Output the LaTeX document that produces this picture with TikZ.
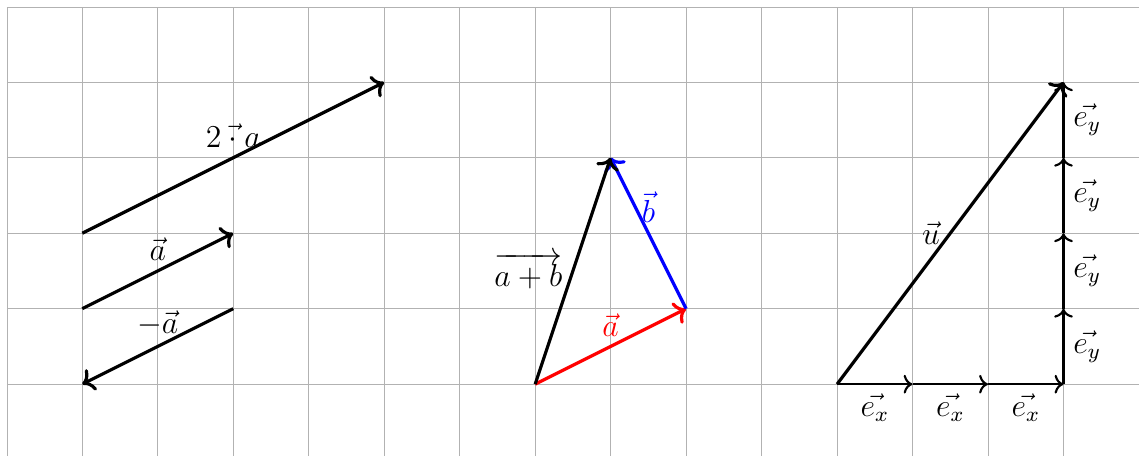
\documentclass[tikz,border=0pt]{standalone}
\usepackage{amsmath,amssymb}
\usepackage{tikz}
\usetikzlibrary{arrows.meta,positioning}

\tikzset{
  vecarrow/.style={->,very thick},
  basisarrow/.style={->,thick},
  lbl/.style={font=\large}
}

\begin{document}
\begin{tikzpicture}[x=1cm,y=1cm]
  \useasboundingbox (-1.09,-0.95) rectangle (14,5.09);
  \draw[help lines,black!30] (-1,-1) grid (14,5);
  % multiples of a
  \coordinate (p0) at (0,0);
  \coordinate (p1) at (0,1);
  \coordinate (p2) at (0,2);
  \coordinate (q1) at (2,1);
  \coordinate (q2) at (2,2);
  \coordinate (q4) at (4,4);
  \draw[vecarrow] (p2) -- (q4) node[midway,above,lbl] (twoa) {$2\mathbin{\vec\cdot} a$};
  \draw[vecarrow] (p1) -- (q2) node[midway,above,lbl] (a) {$\vec a$};
  \draw[vecarrow] (q1) -- (p0) node[midway,above,lbl] (mina) {$-\vec a$};
  % sum of a and b
  \coordinate (s0) at (6,0);
  \coordinate (s1) at (8,1);
  \coordinate (s2) at (7,3);
  \draw[vecarrow,red] (s0) -- (s1) node[midway,above,lbl] (sa) {$\vec a$};
  \draw[vecarrow,blue] (s1) -- (s2) node[midway,above,lbl] (sb) {$\vec b$};
  \draw[vecarrow] (s0) -- (s2) node[midway,left,lbl] (sab) {$\overrightarrow{a+b}$};
  % u in the basis
  \coordinate (u0) at (10,0);
  \coordinate (u1) at (13,4);
  \foreach \i in {0,1,2} {
    \draw[basisarrow] (10+\i,0) coordinate (ex\i) -- ++(1,0)
      node[midway,below,lbl] (exl\i) {$\vec{e_x}$};
  }
  \foreach \j in {0,1,2,3} {
    \draw[basisarrow] (13,\j) coordinate (ey\j) -- ++(0,1)
      node[midway,right,lbl] (eyl\j) {$\vec{e_y}$};
  }
  \draw[vecarrow] (u0) -- (u1) node[midway,left,lbl] (ul) {$\vec u$};
\end{tikzpicture}
\end{document}
